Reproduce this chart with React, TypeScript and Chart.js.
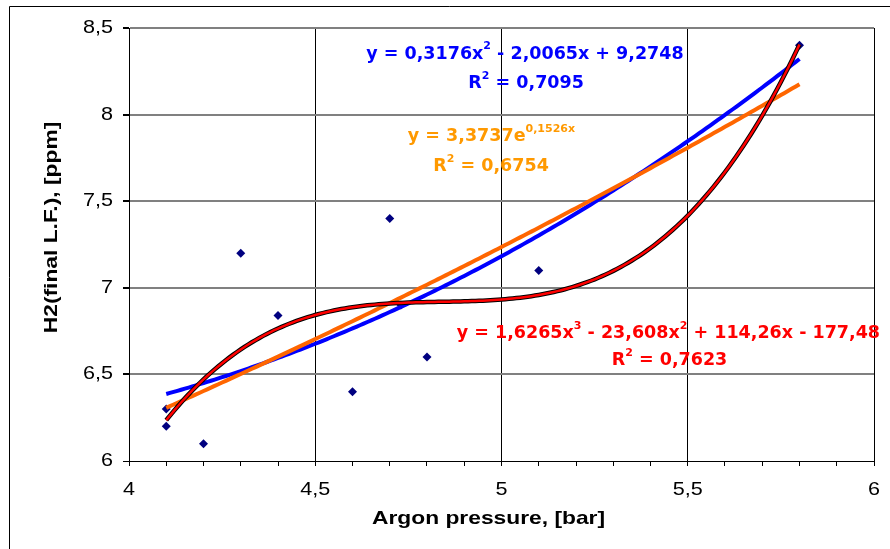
import React, { useEffect, useRef } from "react";
import { Chart, registerables } from "chart.js";
Chart.register(...registerables);

// ---- data ----
const pressure = [4.1, 4.1, 4.2, 4.3, 4.4, 4.6, 4.7, 4.73, 4.8, 5.1, 5.8];
const h2 = [6.3, 6.2, 6.1, 7.2, 6.84, 6.4, 7.4, 6.9, 6.6, 7.1, 8.4];

const xMin = 4;
const xMax = 6;
const xMajor = 0.5;
const xMinor = 0.1;
const yMin = 6;
const yMax = 8.5;
const yStep = 0.5;

// trendline equations as printed on the chart
const polyCoef = [9.2748, -2.0065, 0.3176]; // c0 + c1 x + c2 x^2
const expCoef = [3.3737, 0.1526]; // a * e^(b x)
const cubicCoef = [-177.48, 114.26, -23.608, 1.6265]; // c0 + c1 x + c2 x^2 + c3 x^3
const trendFrom = 4.1;
const trendTo = 5.8;
const trendSteps = 170;

const xTitle = "Argon pressure, [bar]";
const yTitle = "H2(final L.F.), [ppm]";

const polyText = [["y = 0,3176x", false], ["2", true], [" - 2,0065x + 9,2748", false]];
const polyR2 = [["R", false], ["2", true], [" = 0,7095", false]];
const expText = [["y = 3,3737e", false], ["0,1526x", true]];
const expR2 = [["R", false], ["2", true], [" = 0,6754", false]];
const cubicText = [["y = 1,6265x", false], ["3", true], [" - 23,608x", false], ["2", true], [" + 114,26x - 177,48", false]];
const cubicR2 = [["R", false], ["2", true], [" = 0,7623", false]];

const fmt = (v: number) => String(Math.round(v * 100) / 100).replace(".", ",");
const isMajorX = (v: number) => Math.abs(v / xMajor - Math.round(v / xMajor)) < 1e-6;

function evalPoly(c: number[], x: number) {
  let s = 0;
  for (let i = c.length - 1; i >= 0; i--) s = s * x + c[i];
  return s;
}

function trend(f: (x: number) => number) {
  const pts: { x: number; y: number }[] = [];
  for (let i = 0; i <= trendSteps; i++) {
    const x = trendFrom + ((trendTo - trendFrom) * i) / trendSteps;
    pts.push({ x, y: f(x) });
  }
  return pts;
}

type Part = (string | boolean)[];

function drawRich(ctx: CanvasRenderingContext2D, parts: Part[], cx: number, cy: number, color: string, size: number) {
  const fam = '"DejaVu Sans"';
  const big = `bold ${size}px ${fam}`;
  const small = `bold ${Math.round(size * 0.64)}px ${fam}`;
  let total = 0;
  const widths = parts.map((p) => {
    ctx.font = p[1] ? small : big;
    const w = ctx.measureText(p[0] as string).width;
    total += w;
    return w;
  });
  let x = cx - total / 2;
  ctx.fillStyle = color;
  ctx.textBaseline = "middle";
  ctx.textAlign = "left";
  parts.forEach((p, i) => {
    ctx.font = p[1] ? small : big;
    ctx.fillText(p[0] as string, x, p[1] ? cy - size * 0.42 : cy);
    x += widths[i];
  });
}

// text stretched along its direction, like the reference rendering
function stretchText(ctx: CanvasRenderingContext2D, text: string, x: number, y: number, align: CanvasTextAlign, sx: number) {
  ctx.save();
  ctx.translate(x, y);
  ctx.scale(sx, 1);
  ctx.textAlign = align;
  ctx.fillText(text, 0, 0);
  ctx.restore();
}

const decorPlugin = {
  id: "decor",
  beforeDraw(chart: any) {
    const ctx = chart.ctx;
    ctx.save();
    ctx.fillStyle = "#ffffff";
    ctx.fillRect(0, 0, chart.width, chart.height);
    ctx.strokeStyle = "#000";
    ctx.lineWidth = 1;
    ctx.beginPath();
    ctx.moveTo(9.5, chart.height);
    ctx.lineTo(9.5, 6.5);
    ctx.lineTo(chart.width, 6.5);
    ctx.stroke();
    ctx.restore();
  },
  afterDraw(chart: any) {
    const ctx = chart.ctx;
    const xs = chart.scales.x;
    const ys = chart.scales.y;
    const a = chart.chartArea;
    const P = (x: number, y: number) => [xs.getPixelForValue(x), ys.getPixelForValue(y)];
    ctx.save();
    ctx.fillStyle = "#000";
    ctx.textBaseline = "middle";
    // tick labels
    ctx.font = '18px "Liberation Sans"';
    ys.ticks.forEach((t: any) => {
      stretchText(ctx, fmt(t.value), a.left - 16, ys.getPixelForValue(t.value), "right", 1.2);
    });
    xs.ticks.forEach((t: any) => {
      if (isMajorX(t.value)) stretchText(ctx, fmt(t.value), xs.getPixelForValue(t.value), a.bottom + 29, "center", 1.2);
    });
    // axis titles
    ctx.font = 'bold 19px "Liberation Sans"';
    stretchText(ctx, xTitle, (a.left + a.right) / 2 - 13, a.bottom + 58, "center", 1.2);
    ctx.save();
    ctx.translate(52, (a.top + a.bottom) / 2 - 17);
    ctx.rotate(-Math.PI / 2);
    stretchText(ctx, yTitle, 0, 0, "center", 1.2);
    ctx.restore();
    // trendline labels
    const fs = 17.5;
    let p = P(5.063, 8.35);
    drawRich(ctx, polyText, p[0], p[1], "#0000FF", fs);
    p = P(5.066, 8.177);
    drawRich(ctx, polyR2, p[0], p[1], "#0000FF", fs);
    p = P(4.973, 7.871);
    drawRich(ctx, expText, p[0], p[1], "#FF9900", fs);
    p = P(4.972, 7.703);
    drawRich(ctx, expR2, p[0], p[1], "#FF9900", fs);
    p = P(5.448, 6.739);
    drawRich(ctx, cubicText, p[0], p[1], "#FF0000", fs);
    p = P(5.451, 6.583);
    drawRich(ctx, cubicR2, p[0], p[1], "#FF0000", fs);
    ctx.restore();
  },
};

export default function App() {
  const ref = useRef<HTMLCanvasElement | null>(null);
  useEffect(() => {
    if (!ref.current) return;
    const scatter = pressure.map((x, i) => ({ x, y: h2[i] }));
    const chart = new Chart(ref.current, {
      type: "scatter",
      data: {
        datasets: [
          {
            label: "data",
            data: scatter,
            pointStyle: "rectRot",
            pointRadius: 4.5,
            backgroundColor: "#000080",
            borderColor: "#000080",
            borderWidth: 0,
            showLine: false,
            order: 5,
          },
          {
            label: "poly2",
            data: trend((x) => evalPoly(polyCoef, x)),
            showLine: true,
            borderColor: "#0000FF",
            borderWidth: 4,
            pointRadius: 0,
            order: 4,
          },
          {
            label: "exp",
            data: trend((x) => expCoef[0] * Math.exp(expCoef[1] * x)),
            showLine: true,
            borderColor: "#FF6600",
            borderWidth: 4,
            pointRadius: 0,
            order: 3,
          },
          {
            label: "poly3 outline",
            data: trend((x) => evalPoly(cubicCoef, x)),
            showLine: true,
            borderColor: "#000000",
            borderWidth: 4.5,
            pointRadius: 0,
            order: 2,
          },
          {
            label: "poly3",
            data: trend((x) => evalPoly(cubicCoef, x)),
            showLine: true,
            borderColor: "#FF0000",
            borderWidth: 2.5,
            pointRadius: 0,
            order: 1,
          },
        ],
      },
      options: {
        responsive: false,
        animation: false,
        events: [],
        layout: { padding: { top: 28, right: 16, left: 0, bottom: 0 } },
        plugins: { legend: { display: false }, tooltip: { enabled: false }, title: { display: false } },
        scales: {
          x: {
            type: "linear",
            min: xMin,
            max: xMax,
            afterFit: (s: any) => {
              s.height = 88;
            },
            afterBuildTicks: (s: any) => {
              const t = [];
              const n = Math.round((xMax - xMin) / xMinor);
              for (let i = 0; i <= n; i++) t.push({ value: Math.round((xMin + i * xMinor) * 100) / 100 });
              s.ticks = t;
            },
            ticks: { display: false, autoSkip: false, maxRotation: 0 },
            grid: {
              color: (c: any) => (c.tick && isMajorX(c.tick.value) ? "#000" : "rgba(0,0,0,0)"),
              lineWidth: 1,
              tickColor: "#000",
              tickLength: 5,
            },
            border: { color: "#000", width: 1 },
          },
          y: {
            type: "linear",
            min: yMin,
            max: yMax,
            afterFit: (s: any) => {
              s.width = 129;
            },
            ticks: { display: false, stepSize: yStep },
            grid: {
              color: (c: any) => (c.tick && c.tick.value === yMin ? "#000" : "#808080"),
              lineWidth: (c: any) => (c.tick && c.tick.value === yMin ? 1 : 2),
              tickColor: "#000",
              tickLength: 6,
            },
            border: { color: "#000", width: 1 },
          },
        },
      },
      plugins: [decorPlugin],
    } as any);
    return () => chart.destroy();
  }, []);
  return (
    <div style={{ position: "absolute", left: 0, top: 0, width: 890, height: 549, background: "#fff" }}>
      <canvas ref={ref} width={890} height={549} />
    </div>
  );
}
